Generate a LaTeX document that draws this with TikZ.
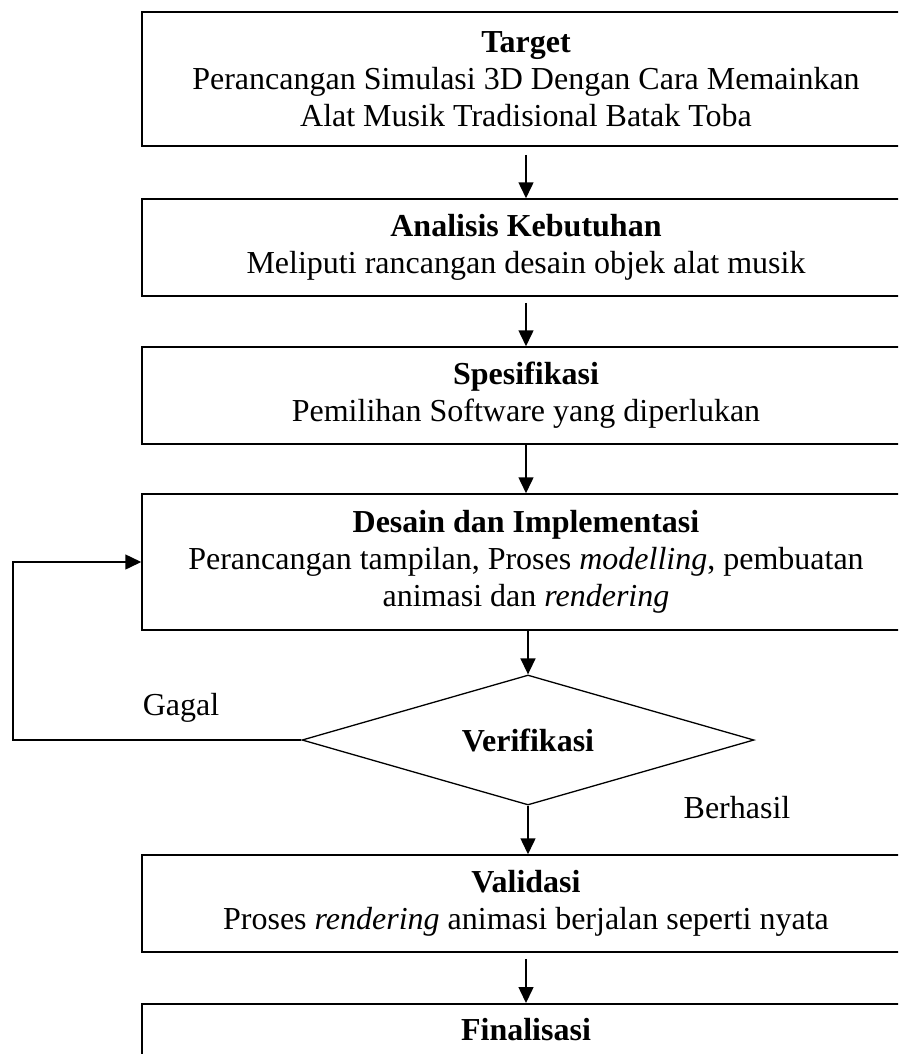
\documentclass[tikz,border=0pt]{standalone}
\usepackage{fontspec}
\setmainfont{Liberation Serif}
\usetikzlibrary{shapes.geometric,arrows.meta,positioning}
\tikzset{
  flowbox/.style={
    draw,
    line width=1.5pt,
    shape=rectangle,
    minimum width=768pt,
    align=center,
    inner sep=0pt
  },
  decision/.style={
    draw,
    line width=1.3pt,
    shape=diamond,
    minimum width=452pt,
    minimum height=130pt,
    aspect=3.5,
    inner sep=0pt
  },
  flow/.style={
    line width=1.5pt,
    -{Triangle[length=16pt,width=15pt]}
  },
  every picture/.style={
    font=\fontsize{32pt}{37pt}\selectfont
  }
}
\begin{document}
\begin{tikzpicture}[x=1pt,y=-1pt]
    \clip (0,0) rectangle (898,1054);
    \node[flowbox, minimum height=134pt] (target) at (526,79) {\textbf{Target}\\Perancangan Simulasi 3D Dengan Cara Memainkan\\Alat Musik Tradisional Batak Toba};
    \node[flowbox, minimum height=97pt] (analisis) at (526,247.5) {\textbf{Analisis Kebutuhan}\\Meliputi rancangan desain objek alat musik};
    \node[flowbox, minimum height=97pt] (spesifikasi) at (526,395.5) {\textbf{Spesifikasi}\\Pemilihan Software yang diperlukan};
    \node[flowbox, minimum height=136pt] (desain) at (526,562) {\textbf{Desain dan Implementasi}\\Perancangan tampilan, Proses \textit{modelling}, pembuatan\\animasi dan \textit{rendering}};
    \node[decision] (verif) at (528,740) {\textbf{Verifikasi}};
    \node[flowbox, minimum height=97pt] (validasi) at (526,903.5) {\textbf{Validasi}\\Proses \textit{rendering} animasi berjalan seperti nyata};
    \node[flowbox, minimum height=97pt, anchor=north] (final) at (526,1003) {};
    \node[below=12pt of final.north] (finaltext) {\textbf{Finalisasi}};
    %labels on the branches
    \node (gagal) at (181,708) {Gagal};
    \node (berhasil) at (737,808) {Berhasil};
    \coordinate (loopcorner) at (13,740);

    \draw[flow, shorten <=8pt] (target) -- (analisis);
    \draw[flow, shorten <=6pt] (analisis) -- (spesifikasi);
    \draw[flow] (spesifikasi) -- (desain);
    \draw[flow] (desain.south -| verif.north) -- (verif.north);
    \draw[flow] (verif.south) -- (validasi.north -| verif.south);
    \draw[flow, shorten <=6pt] (validasi) -- (final);
    \draw[flow] (verif.west) -- (loopcorner) |- (desain.west);
\end{tikzpicture}
\end{document}
